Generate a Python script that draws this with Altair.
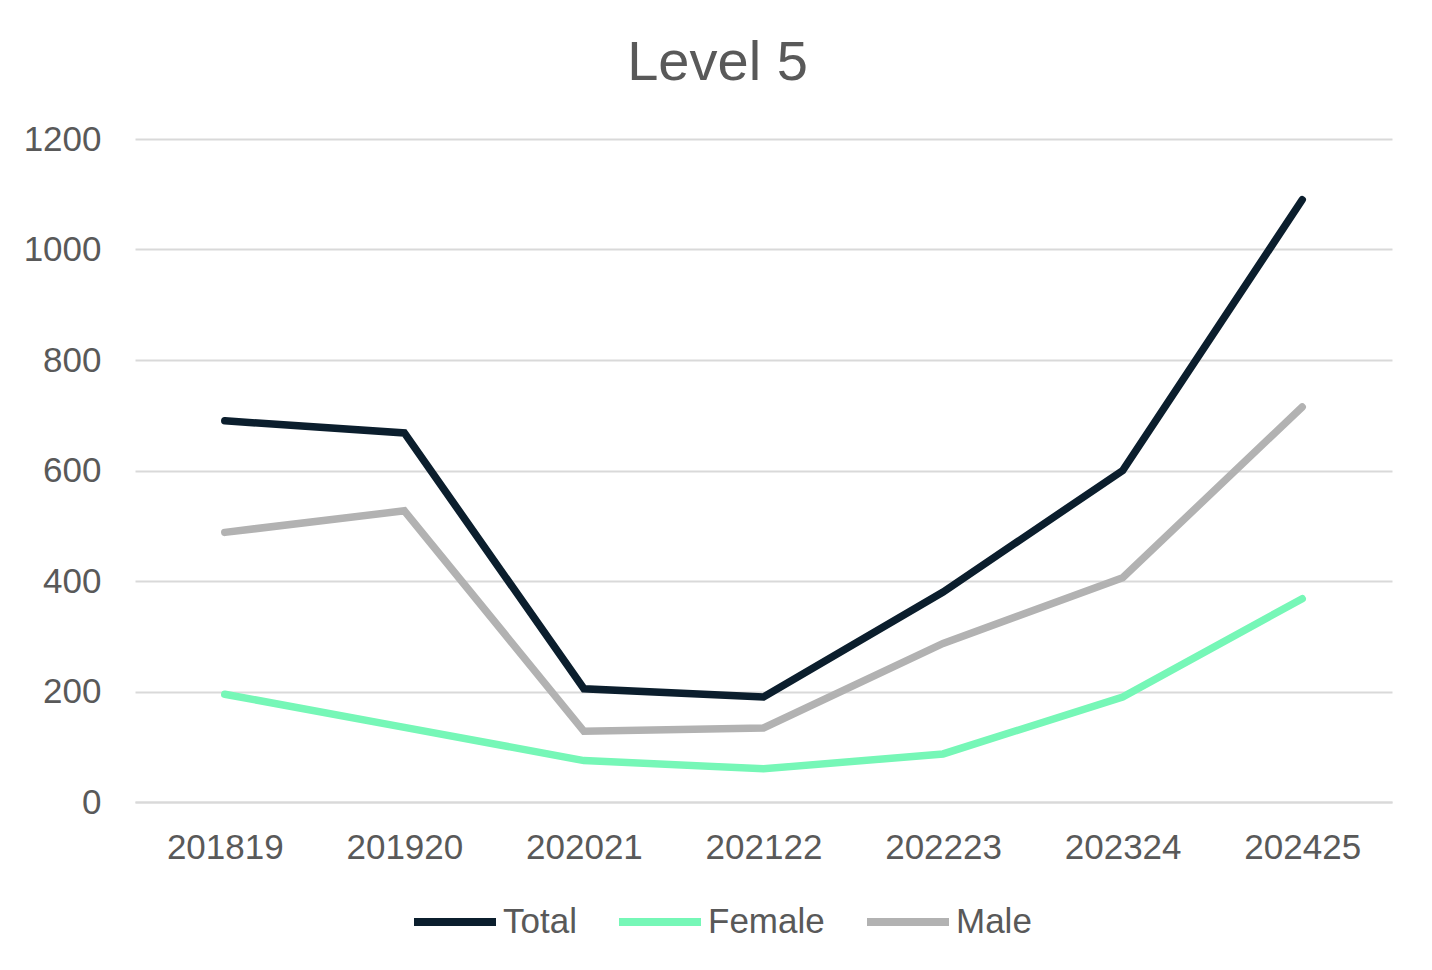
import altair as alt
import pandas as pd

years = ["201819", "201920", "202021", "202122", "202223", "202324", "202425"]
total = [690, 668, 205, 190, 380, 600, 1090]
female = [195, 135, 75, 60, 87, 190, 368]
male = [488, 527, 128, 134, 287, 406, 715]

series_names = ["Total", "Female", "Male"]
series_colors = ["#0b1e2d", "#76f7b7", "#b2b2b2"]
y_ticks = [0, 200, 400, 600, 800, 1000, 1200]

rows = []
for name, vals in zip(series_names, [total, female, male]):
    for yr, v in zip(years, vals):
        rows.append({"Year": yr, "Value": v, "Series": name})
df = pd.DataFrame(rows)

FONT = "Liberation Sans"
TXT = "#595959"
GRID = "#d9d9d9"

chart = alt.Chart(df).mark_line(strokeWidth=7.5, strokeCap="round", strokeJoin="miter").encode(
    x=alt.X("Year:N", sort=years, title=None,
            scale=alt.Scale(padding=0.5),
            axis=alt.Axis(labelAngle=0, labelFontSize=35, labelColor=TXT, labelFont=FONT,
                          ticks=False, domainColor=GRID, domainWidth=2, labelPadding=28,
                          grid=False)),
    y=alt.Y("Value:Q", title=None,
            scale=alt.Scale(domain=[0, 1200], nice=False),
            axis=alt.Axis(values=y_ticks, format="d", labelFontSize=35, labelColor=TXT,
                          labelFont=FONT, ticks=False, domain=False, gridColor=GRID,
                          gridWidth=2, labelPadding=34)),
    color=alt.Color("Series:N", sort=series_names,
                    scale=alt.Scale(domain=series_names, range=series_colors),
                    legend=alt.Legend(title=None, orient="none", direction="horizontal",
                                      legendX=275, legendY=738,
                                      symbolType="stroke", symbolSize=6724,
                                      symbolStrokeWidth=8, labelFontSize=35,
                                      labelFont=FONT, labelColor=TXT,
                                      labelOffset=3, columnPadding=26)),
    order=alt.Order("Series:N")
).properties(
    width=1257,
    height=663,
    autosize="none",
    padding={"left": 127, "top": 131, "right": 32, "bottom": 160},
    title=alt.TitleParams("Level 5", fontSize=56, color=TXT, font=FONT, fontWeight="normal",
                          anchor="middle", dx=-46, offset=30),
).configure_view(stroke=None)

chart.save("out.html", embed_options={"renderer": "svg", "actions": False})
